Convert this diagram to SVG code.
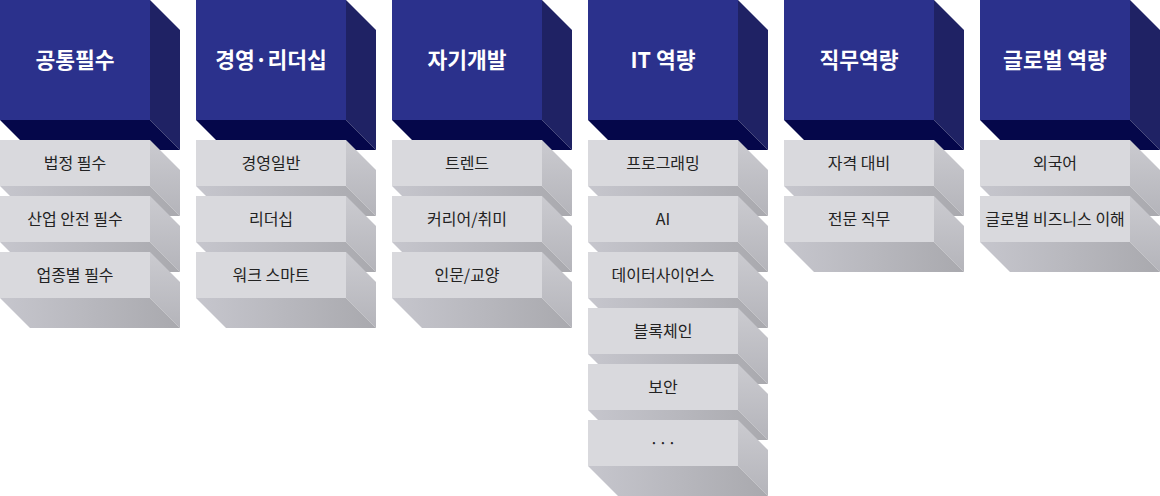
<svg xmlns="http://www.w3.org/2000/svg" xmlns:xlink="http://www.w3.org/1999/xlink" width="1160" height="496" viewBox="0 0 1160 496">
<style>
.h{font-family:"Noto Sans CJK KR","Noto Sans",sans-serif;font-weight:700;font-size:21.5px;fill:#ffffff;text-anchor:middle}
.t{font-family:"Noto Sans CJK KR","Noto Sans",sans-serif;font-weight:400;font-size:16px;fill:#222222;text-anchor:middle}
</style>
<defs>
<linearGradient id="gs" x1="0" y1="0" x2="0" y2="1">
<stop offset="0" stop-color="#cbcbd0"/><stop offset="1" stop-color="#b4b4ba"/>
</linearGradient>
<linearGradient id="gb" x1="0" y1="0" x2="1" y2="0">
<stop offset="0" stop-color="#c6c6cd"/><stop offset="1" stop-color="#a9a9ae"/>
</linearGradient>
<g id="hdr">
<rect x="0" y="0" width="150" height="120" fill="#2b318c"/>
<polygon points="150,0 180,30 180,150 150,120" fill="#1f2264"/>
<polygon points="0,120 150,120 180,150 30,150" fill="#05074a"/>
</g>
<g id="itm">
<rect x="0" y="0" width="150" height="46" fill="#d9d9dd"/>
<polygon points="150,0 180,30 180,76 150,46" fill="url(#gs)"/>
<polygon points="0,46 150,46 180,76 30,76" fill="url(#gb)"/>
</g>
</defs>
<g id="connectors"/>
<g id="col1" transform="translate(0,0)">
<g id="h1"><use xlink:href="#hdr"/><text class="h" x="75" y="68">공통필수</text></g>
<g id="c1i1" transform="translate(0,140)"><use xlink:href="#itm"/><text class="t" x="75" y="29">법정 필수</text></g>
<g id="c1i2" transform="translate(0,196)"><use xlink:href="#itm"/><text class="t" x="75" y="29">산업 안전 필수</text></g>
<g id="c1i3" transform="translate(0,252)"><use xlink:href="#itm"/><text class="t" x="75" y="29">업종별 필수</text></g>
</g>
<g id="col2" transform="translate(196,0)">
<g id="h2"><use xlink:href="#hdr"/><text class="h" x="75" y="68">경영·리더십</text></g>
<g id="c2i1" transform="translate(0,140)"><use xlink:href="#itm"/><text class="t" x="75" y="29">경영일반</text></g>
<g id="c2i2" transform="translate(0,196)"><use xlink:href="#itm"/><text class="t" x="75" y="29">리더십</text></g>
<g id="c2i3" transform="translate(0,252)"><use xlink:href="#itm"/><text class="t" x="75" y="29">워크 스마트</text></g>
</g>
<g id="col3" transform="translate(392,0)">
<g id="h3"><use xlink:href="#hdr"/><text class="h" x="75" y="68">자기개발</text></g>
<g id="c3i1" transform="translate(0,140)"><use xlink:href="#itm"/><text class="t" x="75" y="29">트렌드</text></g>
<g id="c3i2" transform="translate(0,196)"><use xlink:href="#itm"/><text class="t" x="75" y="29">커리어/취미</text></g>
<g id="c3i3" transform="translate(0,252)"><use xlink:href="#itm"/><text class="t" x="75" y="29">인문/교양</text></g>
</g>
<g id="col4" transform="translate(588,0)">
<g id="h4"><use xlink:href="#hdr"/><text class="h" x="75" y="68">IT 역량</text></g>
<g id="c4i1" transform="translate(0,140)"><use xlink:href="#itm"/><text class="t" x="75" y="29">프로그래밍</text></g>
<g id="c4i2" transform="translate(0,196)"><use xlink:href="#itm"/><text class="t" x="75" y="29">AI</text></g>
<g id="c4i3" transform="translate(0,252)"><use xlink:href="#itm"/><text class="t" x="75" y="29">데이터사이언스</text></g>
<g id="c4i4" transform="translate(0,308)"><use xlink:href="#itm"/><text class="t" x="75" y="29">블록체인</text></g>
<g id="c4i5" transform="translate(0,364)"><use xlink:href="#itm"/><text class="t" x="75" y="29">보안</text></g>
<g id="c4i6" transform="translate(0,420)"><use xlink:href="#itm"/><text class="t" x="75" y="29">···</text></g>
</g>
<g id="col5" transform="translate(784,0)">
<g id="h5"><use xlink:href="#hdr"/><text class="h" x="75" y="68">직무역량</text></g>
<g id="c5i1" transform="translate(0,140)"><use xlink:href="#itm"/><text class="t" x="75" y="29">자격 대비</text></g>
<g id="c5i2" transform="translate(0,196)"><use xlink:href="#itm"/><text class="t" x="75" y="29">전문 직무</text></g>
</g>
<g id="col6" transform="translate(980,0)">
<g id="h6"><use xlink:href="#hdr"/><text class="h" x="75" y="68">글로벌 역량</text></g>
<g id="c6i1" transform="translate(0,140)"><use xlink:href="#itm"/><text class="t" x="75" y="29">외국어</text></g>
<g id="c6i2" transform="translate(0,196)"><use xlink:href="#itm"/><text class="t" x="75" y="29">글로벌 비즈니스 이해</text></g>
</g>
</svg>
